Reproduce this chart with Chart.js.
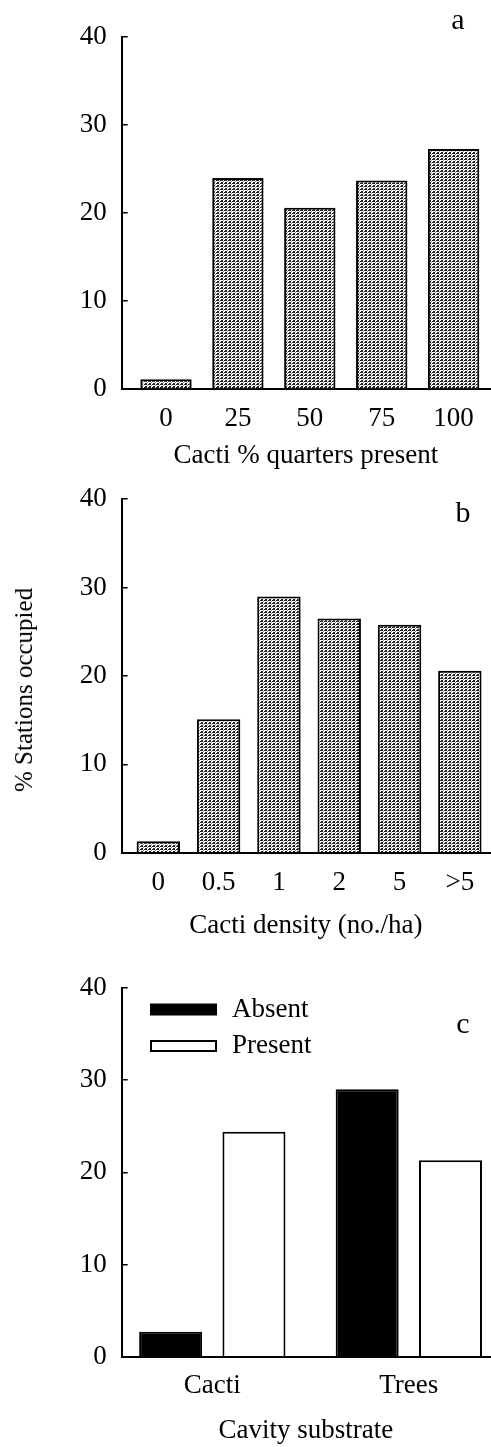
<!DOCTYPE html>
<html>
<head>
<meta charset="utf-8">
<script src="https://cdn.jsdelivr.net/npm/chart.js@4.4.1/dist/chart.umd.min.js"></script>
<style>
  html, body { margin: 0; padding: 0; background: #fff; }
  body { width: 491px; height: 1447px; position: relative; overflow: hidden; }
  canvas { position: absolute; left: 0; }
  #ylab {
    position: absolute; left: 24px; top: 690px;
    transform: translate(-50%, -50%) rotate(-90deg);
    font: 25px "Liberation Serif", serif; color: #000; white-space: nowrap;
  }
</style>
</head>
<body>
<canvas id="chartA" width="491" height="472" style="top:0px"></canvas>
<canvas id="chartB" width="491" height="480" style="top:462px"></canvas>
<canvas id="chartC" width="491" height="502" style="top:945px"></canvas>
<div id="ylab">% Stations occupied</div>
<script>
// dados
const yTicks = [0, 10, 20, 30, 40];

const quarterLabels = ['0', '25', '50', '75', '100'];
const quarterValues = [1.1, 24.0, 20.6, 23.7, 27.3];

const densityLabels = ['0', '0.5', '1', '2', '5', '>5'];
const densityValues = [1.3, 15.1, 29.0, 26.5, 25.8, 20.6];

const substrateLabels = ['Cacti', 'Trees'];
const absentValues = [2.7, 29.0];
const presentValues = [24.4, 21.3];

const serif = '"Liberation Serif", "Times New Roman", serif';
const fontSize = 27;
Chart.defaults.font.family = serif;
Chart.defaults.color = '#000';

// padrão pontilhado das barras cinzas
function makeStipple() {
    const c = document.createElement('canvas');
    c.width = 4; c.height = 3;
    const g = c.getContext('2d');
    g.fillStyle = '#fff';
    g.fillRect(0, 0, 4, 3);
    g.fillStyle = '#222';
    g.fillRect(0, 0, 3, 1);
    g.fillRect(1, 2, 2, 1);
    g.fillStyle = '#888';
    g.fillRect(3, 1, 1, 1);
    return g.createPattern(c, 'repeat');
}
const stipple = makeStipple();

// letra do painel e legenda dentro da área do gráfico
const panelDecor = {
    id: 'panelDecor',
    afterDraw(chart, args, opts) {
        const ctx = chart.ctx;
        ctx.save();
        ctx.fillStyle = '#000';
        if (opts.letter) {
            ctx.font = '30px ' + serif;
            ctx.textAlign = 'center';
            ctx.textBaseline = 'alphabetic';
            ctx.fillText(opts.letter, opts.letterX, opts.letterY);
        }
        if (opts.legend) {
            const L = opts.legend;
            ctx.font = fontSize + 'px ' + serif;
            ctx.textAlign = 'left';
            ctx.textBaseline = 'middle';
            chart.data.datasets.forEach((ds, i) => {
                const y = L.y + i * L.gap;
                ctx.fillStyle = ds.backgroundColor;
                ctx.fillRect(L.x, y, L.boxW, L.boxH);
                ctx.lineWidth = 2;
                ctx.strokeStyle = '#000';
                ctx.strokeRect(L.x, y, L.boxW, L.boxH);
                ctx.fillStyle = '#000';
                ctx.fillText(ds.label, L.textX, y + L.boxH / 2);
            });
        }
        ctx.restore();
    }
};

function panelOptions(p) {
    return {
        responsive: false,
        animation: false,
        events: [],
        layout: { padding: { top: p.padTop, right: 1, bottom: 0, left: 0 } },
        datasets: { bar: { categoryPercentage: p.catPct, barPercentage: p.barPct } },
        plugins: {
            legend: { display: false },
            tooltip: { enabled: false },
            panelDecor: { letter: p.letter, letterX: p.letterX, letterY: p.letterY, legend: p.legend }
        },
        scales: {
            x: {
                type: 'linear',
                offset: false,
                min: p.xMin,
                max: p.xMax,
                grid: { display: false, drawTicks: false },
                border: { display: true, color: '#000', width: 2 },
                afterBuildTicks: s => { s.ticks = p.labels.map((l, i) => ({ value: i })); },
                afterFit: s => { s.height = p.axisH; },
                ticks: {
                    autoSkip: false,
                    maxRotation: 0,
                    padding: p.tickPad,
                    color: '#000',
                    font: { size: fontSize },
                    callback: v => p.labels[v]
                },
                title: {
                    display: true,
                    text: p.title,
                    color: '#000',
                    padding: { top: 0, bottom: 0 },
                    font: { size: fontSize }
                }
            },
            y: {
                min: 0,
                max: 40,
                afterBuildTicks: s => { s.ticks = yTicks.map(v => ({ value: v })); },
                afterFit: s => { s.width = 121.7; },
                grid: { drawOnChartArea: false, tickLength: -6, color: '#000', lineWidth: 1.5 },
                border: { color: '#000', width: 2 },
                ticks: { padding: 21, color: '#000', font: { size: fontSize } }
            }
        }
    };
}

new Chart(document.getElementById('chartA'), {
    type: 'bar',
    data: {
        datasets: [{
            data: quarterValues.map((v, i) => ({ x: i, y: v })),
            backgroundColor: stipple,
            borderColor: '#000',
            borderWidth: 2
        }]
    },
    options: panelOptions({
        labels: quarterLabels, title: 'Cacti % quarters present',
        xMin: -0.616, xMax: 4.506, padTop: 20.7, axisH: 83, tickPad: 13.8,
        catPct: 1, barPct: 0.714,
        letter: 'a', letterX: 458, letterY: 29
    }),
    plugins: [panelDecor]
});

new Chart(document.getElementById('chartB'), {
    type: 'bar',
    data: {
        datasets: [{
            data: densityValues.map((v, i) => ({ x: i, y: v })),
            backgroundColor: stipple,
            borderColor: '#000',
            borderWidth: 2
        }]
    },
    options: panelOptions({
        labels: densityLabels, title: 'Cacti density (no./ha)',
        xMin: -0.607, xMax: 5.5, padTop: 21.3, axisH: 89.3, tickPad: 14.1,
        catPct: 1, barPct: 0.72,
        letter: 'b', letterX: 463, letterY: 59.7
    }),
    plugins: [panelDecor]
});

new Chart(document.getElementById('chartC'), {
    type: 'bar',
    data: {
        datasets: [
            {
                label: 'Absent',
                data: absentValues.map((v, i) => ({ x: i, y: v })),
                backgroundColor: '#000',
                borderColor: '#000',
                borderWidth: 2
            },
            {
                label: 'Present',
                data: presentValues.map((v, i) => ({ x: i, y: v })),
                backgroundColor: '#fff',
                borderColor: '#000',
                borderWidth: 2
            }
        ]
    },
    options: panelOptions({
        labels: substrateLabels, title: 'Cavity substrate',
        xMin: -0.461, xMax: 1.413, padTop: 42.9, axisH: 90.3, tickPad: 13.1,
        catPct: 0.848, barPct: 0.756,
        letter: 'c', letterX: 463, letterY: 88.3,
        legend: { x: 151, y: 59.5, boxW: 65, boxH: 10, gap: 36.5, textX: 232 }
    }),
    plugins: [panelDecor]
});
</script>
</body>
</html>
